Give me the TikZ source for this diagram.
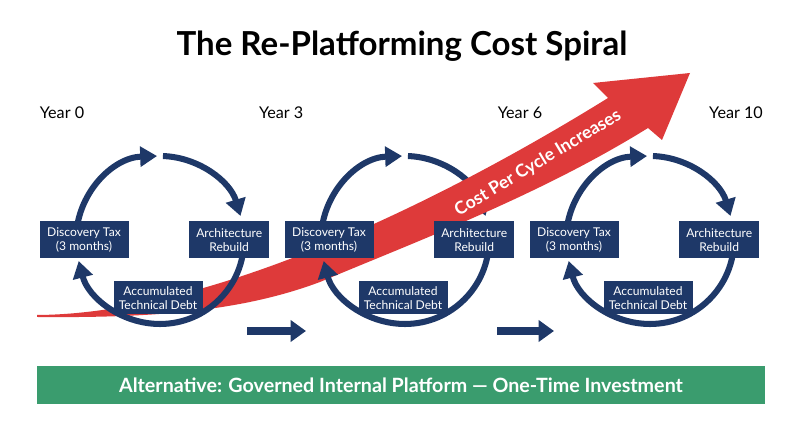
\documentclass[tikz,border=0pt]{standalone}
\usepackage{fontspec}
\setmainfont{Lato}
\usepackage{tikz}
\usetikzlibrary{arrows.meta,calc,positioning}
\usepackage{xcolor}
\definecolor{navy}{RGB}{30,56,104}
\definecolor{costred}{RGB}{222,58,58}
\definecolor{altgreen}{RGB}{58,156,110}
\tikzset{
  stagebox/.style={fill=navy, text=white, font=\fontsize{8.6}{10.2}\selectfont, align=center, inner sep=0pt, minimum height=0.925cm},
  cycarc/.style={navy, line width=4.3pt, -{Triangle[length=12pt,width=14pt]}},
  steparrow/.style={navy, line width=5pt, -{Triangle[length=11pt,width=15pt]}},
  yearlabel/.style={font=\fontsize{11.5}{13}\selectfont},
}

\begin{document}
\begin{tikzpicture}
\useasboundingbox (0.000000,0.000000) rectangle (20.000000,11.125000);

%Title
\node[font=\fontsize{23.5}{27}\selectfont\bfseries] (title) at (10.050000,9.975000) {The Re-Platforming Cost Spiral};

%Year labels
\node[yearlabel] (year0) at (1.550000,8.300000) {Year 0};
\node[yearlabel] (year3) at (7.030000,8.300000) {Year 3};
\node[yearlabel] (year6) at (13.000000,8.300000) {Year 6};
\node[yearlabel] (year10) at (18.400000,8.300000) {Year 10};

%Cycle centres
\coordinate (c1) at (4.000000,5.125000);
\coordinate (c2) at (10.125000,5.125000);
\coordinate (c3) at (16.250000,5.125000);

%Cycle 1 upper arcs
\draw[cycarc] ($(c1)+(180:2.1)$) arc[start angle=180, end angle=92, radius=2.1];
\draw[cycarc] ($(c1)+(88:2.1)$) arc[start angle=88, end angle=16.6, radius=2.1];

%Cycle 2 upper arcs
\draw[cycarc] ($(c2)+(180:2.1)$) arc[start angle=180, end angle=92, radius=2.1];
\draw[cycarc] ($(c2)+(88:2.1)$) arc[start angle=88, end angle=16.6, radius=2.1];

%Cycle 3 upper arcs
\draw[cycarc] ($(c3)+(180:2.1)$) arc[start angle=180, end angle=92, radius=2.1];
\draw[cycarc] ($(c3)+(88:2.1)$) arc[start angle=88, end angle=16.6, radius=2.1];

%Cost arrow
\fill[costred] (0.925000,3.250000) .. controls (5.500000,3.275000) and (11.450000,6.350000) .. (15.200000,8.675000)
  -- (14.825000,9.050000) -- (17.250000,9.300000) -- (16.550000,7.625000) -- (16.200000,7.925000)
  .. controls (13.500000,6.250000) and (10.500000,5.125000) .. (8.000000,4.075000)
  .. controls (6.000000,3.325000) and (3.750000,3.175000) .. (0.925000,3.200000) -- cycle;
\node[rotate=31, text=white, font=\fontsize{12.5}{14}\selectfont\bfseries] (costlabel) at (13.450000,7.050000) {Cost Per Cycle Increases};

%Cycle lower arcs
\draw[cycarc] ($(c1)+(0:2.1)$) arc[start angle=0, end angle=-165.5, radius=2.1];
\draw[cycarc] ($(c2)+(0:2.1)$) arc[start angle=0, end angle=-165.5, radius=2.1];
\draw[cycarc] ($(c3)+(0:2.1)$) arc[start angle=0, end angle=-165.5, radius=2.1];

%Cycle 1 boxes
\node[stagebox, minimum width=2.225cm] (disc1) at ($(c1)+(-1.90,0)$) {Discovery Tax\\(3 months)};
\node[stagebox, minimum width=2.000cm] (arch1) at ($(c1)+(1.73,0)$) {Architecture\\Rebuild};
\node[stagebox, minimum width=2.225cm, minimum height=0.825cm] (debt1) at ($(c1)+(-0.05,-1.45)$) {Accumulated\\Technical Debt};

%Cycle 2 boxes
\node[stagebox, minimum width=2.225cm] (disc2) at ($(c2)+(-1.90,0)$) {Discovery Tax\\(3 months)};
\node[stagebox, minimum width=2.000cm] (arch2) at ($(c2)+(1.73,0)$) {Architecture\\Rebuild};
\node[stagebox, minimum width=2.225cm, minimum height=0.825cm] (debt2) at ($(c2)+(-0.05,-1.45)$) {Accumulated\\Technical Debt};

%Cycle 3 boxes
\node[stagebox, minimum width=2.225cm] (disc3) at ($(c3)+(-1.90,0)$) {Discovery Tax\\(3 months)};
\node[stagebox, minimum width=2.000cm] (arch3) at ($(c3)+(1.73,0)$) {Architecture\\Rebuild};
\node[stagebox, minimum width=2.225cm, minimum height=0.825cm] (debt3) at ($(c3)+(-0.05,-1.45)$) {Accumulated\\Technical Debt};

%Step arrows
\coordinate (step1a) at (6.175000,2.850000);
\coordinate (step1b) at (7.650000,2.850000);
\coordinate (step2a) at (12.425000,2.850000);
\coordinate (step2b) at (13.850000,2.850000);
\draw[steparrow] (step1a) -- (step1b);
\draw[steparrow] (step2a) -- (step2b);

%Alternative bar
\node[fill=altgreen, text=white, minimum width=18.2cm, minimum height=0.95cm, inner sep=0pt, font=\fontsize{14}{16}\selectfont\bfseries] (alt) at (10.025000,1.500000) {Alternative: Governed Internal Platform — One-Time Investment};
\end{tikzpicture}
\end{document}
